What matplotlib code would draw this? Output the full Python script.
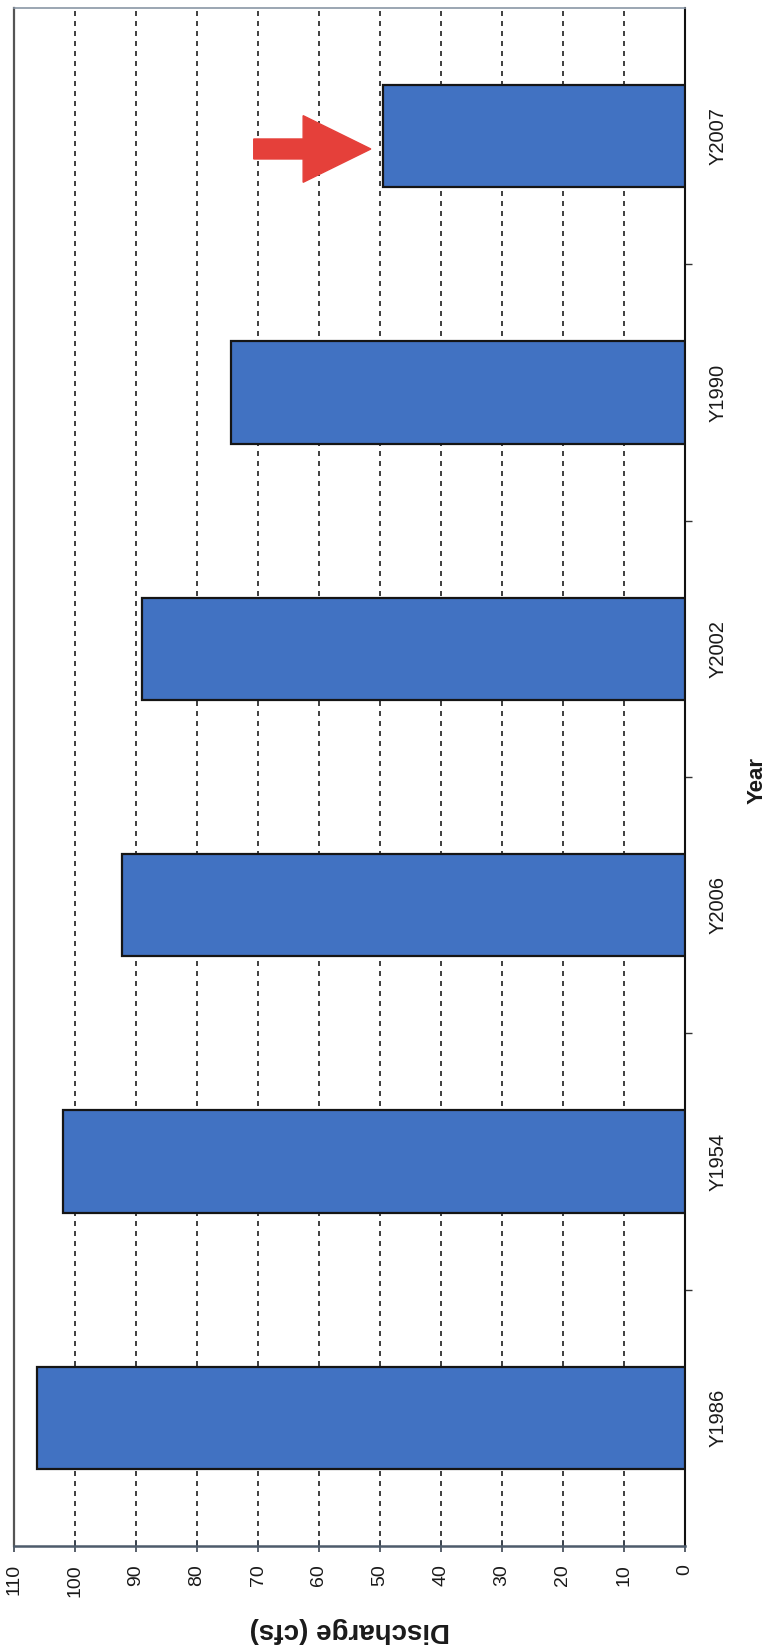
import matplotlib
matplotlib.use("Agg")
import matplotlib.pyplot as plt
import matplotlib.patches as mpatches
import numpy as np

# Discharge by year (cfs), drawn as a sideways bar chart
years = ["Y1986", "Y1954", "Y2006", "Y2002", "Y1990", "Y2007"]
discharge = [106.2, 102.0, 92.3, 89.0, 74.5, 49.5]
value_ticks = [0, 10, 20, 30, 40, 50, 60, 70, 80, 90, 100, 110]

plt.rcParams["font.family"] = ["Liberation Sans", "DejaVu Sans"]

fig = plt.figure(figsize=(7.7, 16.47), dpi=100)
ax = fig.add_axes([14 / 770, 101 / 1647, 671 / 770, 1538 / 1647])

pos = np.arange(len(years))
ax.barh(pos, discharge, height=0.4, color="#4172C2", edgecolor="#151515",
        linewidth=1.6, zorder=3)

ax.set_xlim(110, 0)
ax.set_ylim(-0.5, len(years) - 0.5)

# dashed gridlines at every 10 cfs
for v in value_ticks[1:-1]:
    ax.axvline(v, color="#1e1e1e", lw=1.2, ls=(0, (3, 3)), zorder=1)

ax.set_xticks(value_ticks)
ax.set_xticklabels([str(v) for v in value_ticks], rotation=90, fontsize=14)
ax.tick_params(axis="x", direction="inout", length=8, width=1.2, pad=9,
               color="#3c4652", labelcolor="#1a1a1a")

ax.yaxis.tick_right()
ax.set_yticks(pos)
ax.set_yticklabels(years, rotation=90, fontsize=14.5, va="center")
ax.set_yticks(pos[:-1] + 0.5, minor=True)
ax.tick_params(axis="y", which="major", length=0, pad=17, labelcolor="#1a1a1a")
ax.tick_params(axis="y", which="minor", length=5, width=1.0, direction="out",
               color="#333333")

ax.spines["bottom"].set_color("#4d5b6b")
ax.spines["bottom"].set_linewidth(1.8)
ax.spines["left"].set_color("#555555")
ax.spines["left"].set_linewidth(1.6)
ax.spines["top"].set_color("#8a97a6")
ax.spines["top"].set_linewidth(1.2)
ax.spines["right"].set_color("#111111")
ax.spines["right"].set_linewidth(1.5)

ax.set_xlabel("Discharge (cfs)", fontsize=20, fontweight="bold", rotation=180,
              va="center", ha="center", color="#1a1a1a")
ax.xaxis.set_label_coords(0.5, -0.0546)
ax.yaxis.set_label_position("right")
ax.set_ylabel("Year", fontsize=16, fontweight="bold", rotation=90,
              va="center", ha="center", color="#1a1a1a")
ax.yaxis.set_label_coords(1.107, 0.498)

# red arrow pointing at the most recent year's bar
arrow = mpatches.FancyArrow(70.7, 4.95, -19.2, 0, width=0.078, head_width=0.26,
                            head_length=11.1, length_includes_head=True,
                            color="#E5403A", zorder=4)
ax.add_patch(arrow)

fig.savefig("out.png", dpi=100)
